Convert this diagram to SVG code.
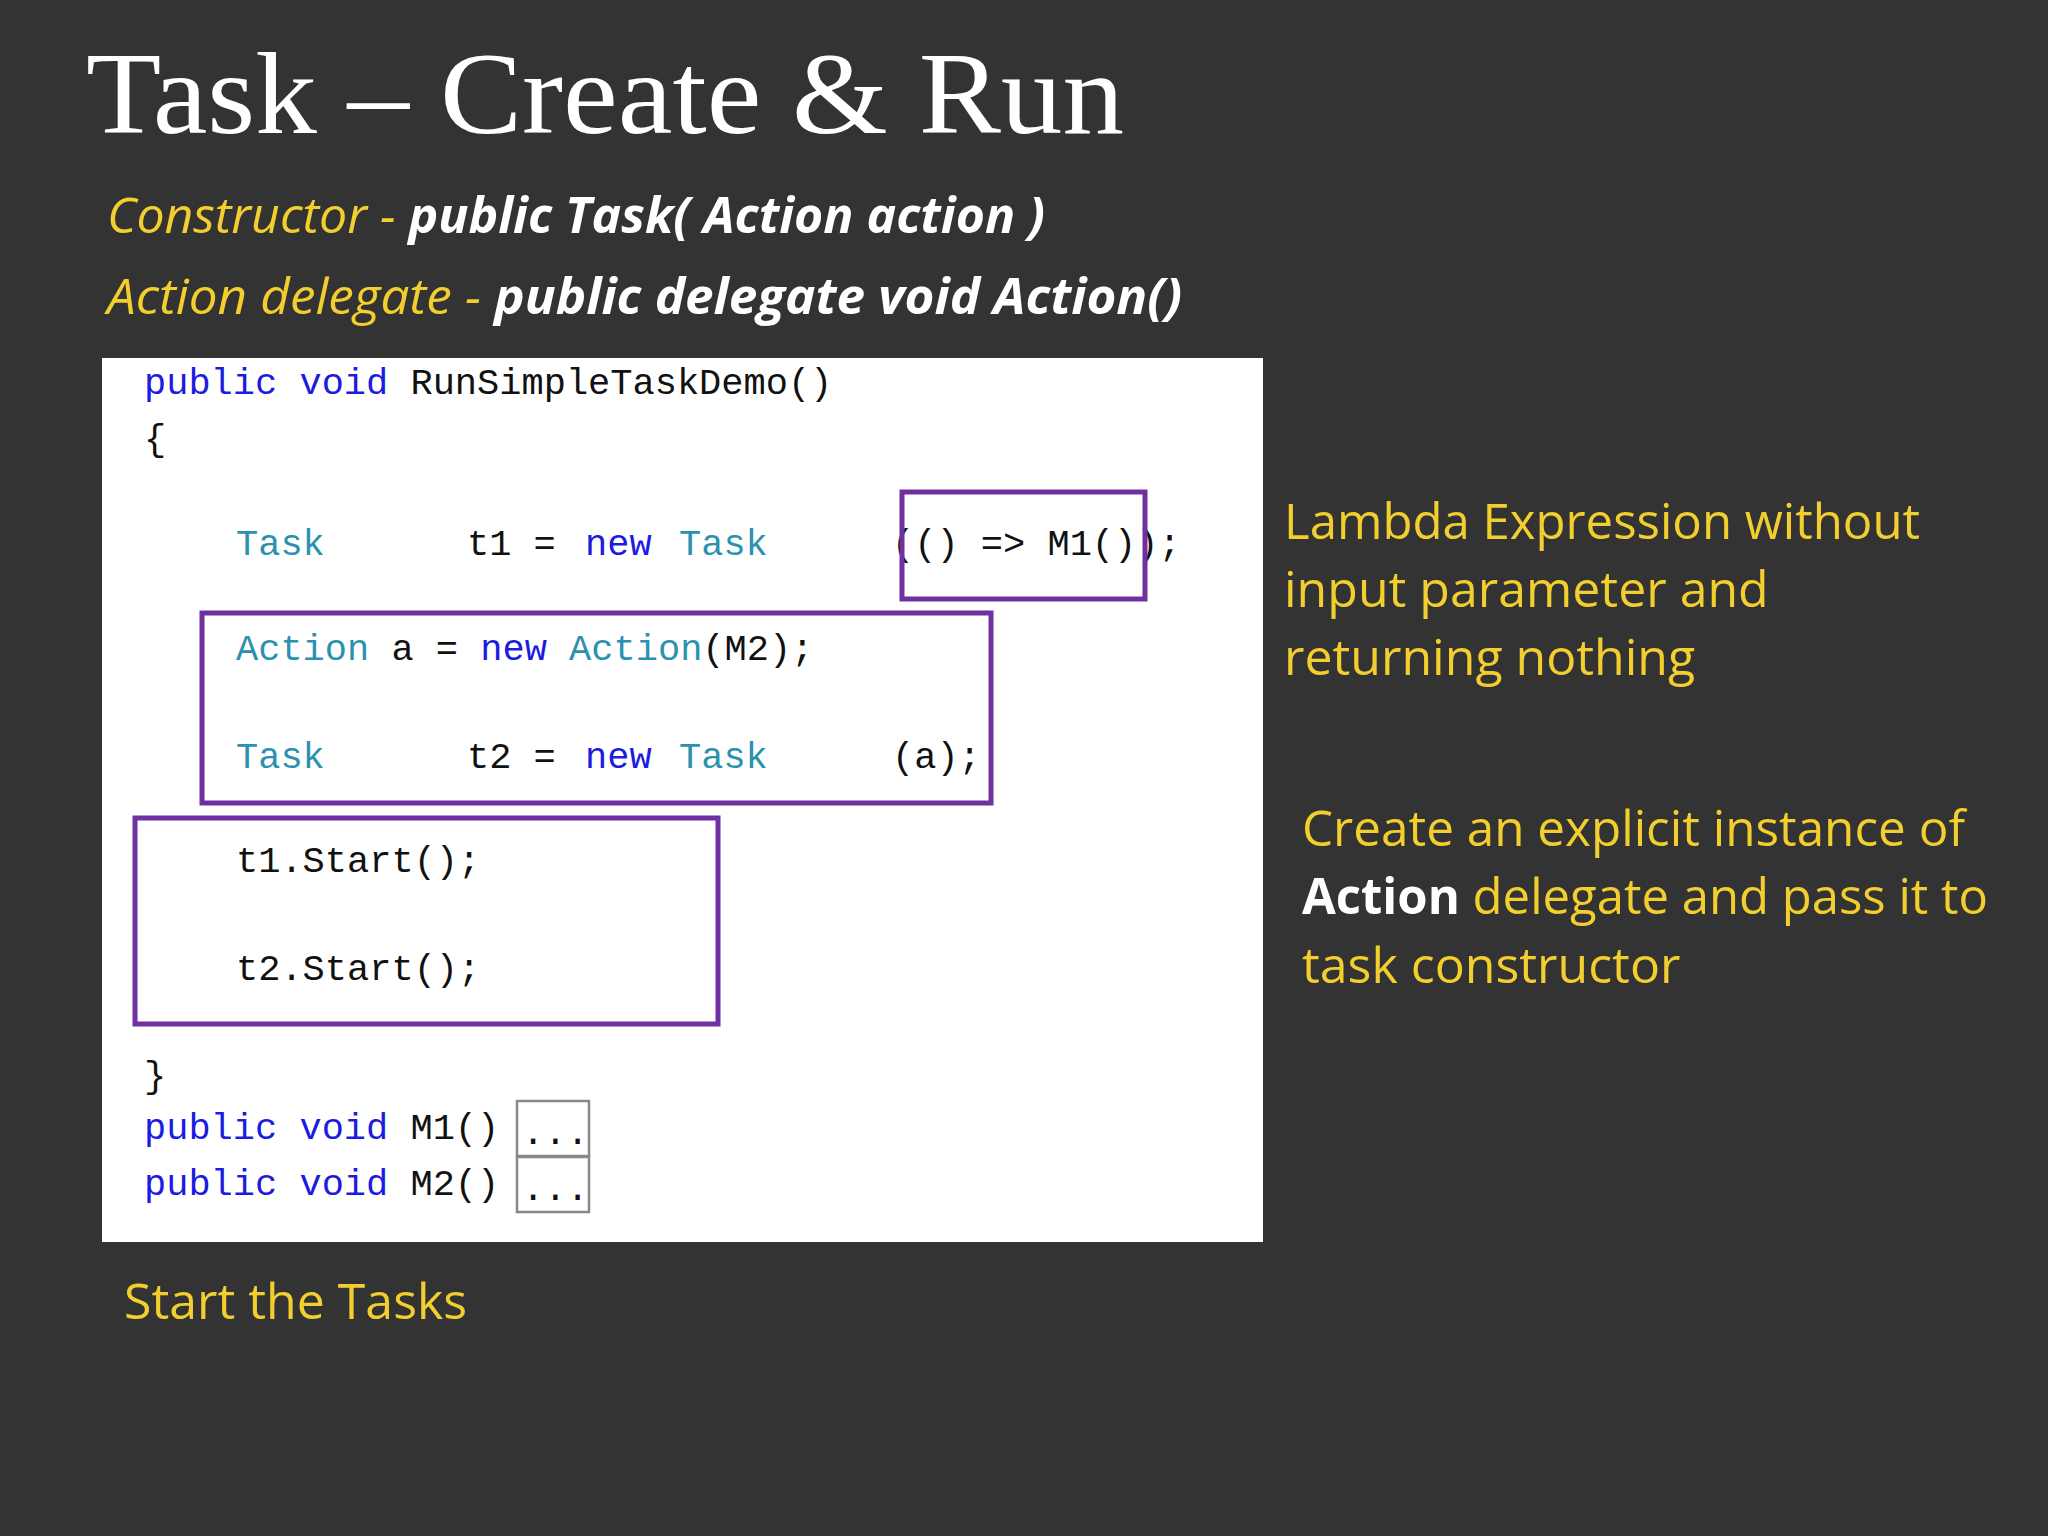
<svg xmlns="http://www.w3.org/2000/svg" width="2048" height="1536" viewBox="0 0 2048 1536">
<style>
.t{font-family:"Open Sans","Liberation Sans",sans-serif;font-size:50px;fill:#f2cf2e}
.w{fill:#ffffff}
.c{font-family:"Liberation Mono","DejaVu Sans Mono",monospace;font-size:37px;fill:#111}
.k{fill:#1c1ce0}
.ty{fill:#2b91af}
.box{fill:none;stroke:#7030a0;stroke-width:5}
.sb{fill:none;stroke:#888;stroke-width:2.5}
</style>
<rect width="2048" height="1536" fill="#333333"/>
<text x="86" y="133" font-family="Liberation Serif,serif" font-size="116" fill="#fff" textLength="1038" lengthAdjust="spacingAndGlyphs">Task – Create &amp; Run</text>
<g id="subtitles" font-style="italic">
<text class="t" x="107" y="233" textLength="938" lengthAdjust="spacingAndGlyphs">Constructor - <tspan class="w" font-weight="bold">public Task( Action action )</tspan></text>
<text class="t" x="107" y="314" textLength="1075" lengthAdjust="spacingAndGlyphs">Action delegate - <tspan class="w" font-weight="bold">public delegate void Action()</tspan></text>
</g>
<g id="code">
<rect x="102" y="358" width="1161" height="884" fill="#fff"/>
<text class="c" x="144" y="394"><tspan class="k">public void</tspan> RunSimpleTaskDemo()</text>
<text class="c" x="144" y="450">{</text>
<text class="c" y="555"><tspan x="236" class="ty">Task</tspan><tspan x="467">t1 = </tspan><tspan x="585" class="k">new</tspan><tspan x="679" class="ty">Task</tspan><tspan x="892">(() =&gt; M1());</tspan></text>
<text class="c" y="660"><tspan x="236" class="ty">Action</tspan><tspan> a = </tspan><tspan class="k">new</tspan><tspan> </tspan><tspan class="ty">Action</tspan><tspan>(M2);</tspan></text>
<text class="c" y="768"><tspan x="236" class="ty">Task</tspan><tspan x="467">t2 = </tspan><tspan x="585" class="k">new</tspan><tspan x="679" class="ty">Task</tspan><tspan x="892">(a);</tspan></text>
<text class="c" x="236" y="872">t1.Start();</text>
<text class="c" x="236" y="980">t2.Start();</text>
<text class="c" x="144" y="1087">}</text>
<text class="c" x="144" y="1139"><tspan class="k">public void</tspan> M1()</text>
<text class="c" x="144" y="1195"><tspan class="k">public void</tspan> M2()</text>
<rect class="sb" x="517" y="1101" width="72" height="55"/>
<rect class="sb" x="517" y="1157" width="72" height="55"/>
<text class="c" x="522" y="1144" fill="#888" font-size="30">...</text>
<text class="c" x="522" y="1200" fill="#888" font-size="30">...</text>
</g>
<g id="boxes">
<rect class="box" x="902" y="492" width="243" height="107"/>
<rect class="box" x="202" y="613" width="789" height="190"/>
<rect class="box" x="135" y="818" width="583" height="206"/>
</g>
<g id="notes">
<text class="t" x="1284" y="539" textLength="636" lengthAdjust="spacingAndGlyphs">Lambda Expression without</text>
<text class="t" x="1284" y="607">input parameter and</text>
<text class="t" x="1284" y="675">returning nothing</text>
<text class="t" x="1302" y="846" textLength="663" lengthAdjust="spacingAndGlyphs">Create an explicit instance of</text>
<text class="t" x="1302" y="914" textLength="686" lengthAdjust="spacingAndGlyphs"><tspan class="w" font-weight="bold">Action</tspan> delegate and pass it to</text>
<text class="t" x="1302" y="983">task constructor</text>
<text class="t" x="124" y="1319">Start the Tasks</text>
</g>
</svg>
